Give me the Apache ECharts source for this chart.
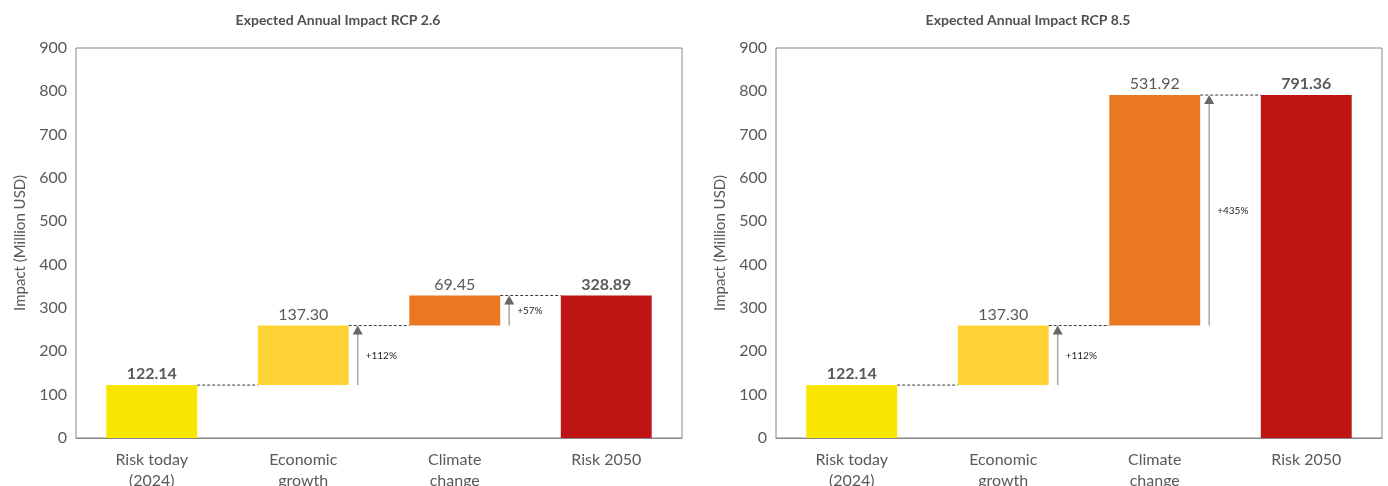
<!DOCTYPE html>
<html>
<head>
<meta charset="utf-8">
<script src="https://cdn.jsdelivr.net/npm/echarts@6/dist/echarts.min.js"></script>
<style>
  html, body { margin: 0; padding: 0; background: #fff; }
  #chart { width: 1388px; height: 486px; }
</style>
</head>
<body>
<div id="chart"></div>
<script>
var categories = ['Risk today\n(2024)', 'Economic\ngrowth', 'Climate\nchange', 'Risk 2050'];
var titles = ['Expected Annual Impact RCP 2.6', 'Expected Annual Impact RCP 8.5'];
var rcp26 = [122.14, 137.30, 69.45, 328.89];
var rcp85 = [122.14, 137.30, 531.92, 791.36];
var pct26 = ['', '+112%', '+57%'];
var pct85 = ['', '+112%', '+435%'];
var barColors = ['#F8E500', '#FFD335', '#E97820', '#BE1414'];
var yTicks = [0, 900, 100];

var font = 'Lato, "Open Sans", sans-serif';
var barRatio = 0.6;

// invisible base for the floating bars
function baseOf(vals) {
    var out = [], acc = 0;
    vals.forEach(function (v, i) {
        if (i === 0 || i === vals.length - 1) out.push(0);
        else out.push(acc);
        acc += v;
    });
    return out;
}

// steps: [index, low, high]
function stepsOf(vals) {
    var out = [], acc = 0;
    for (var i = 0; i < vals.length - 1; i++) {
        out.push([i, acc, acc + vals[i]]);
        acc += vals[i];
    }
    return out;
}

function makeRender(pcts) {
    return function (params, api) {
        var i = api.value(0), lo = api.value(1), hi = api.value(2);
        var band = api.size([1, 0])[0];
        var half = band * barRatio / 2;
        var pHi = api.coord([i, hi]);
        var pLo = api.coord([i, lo]);
        var xr = pHi[0] + half;
        var nextLeft = pHi[0] + band - half;
        var children = [{
            type: 'line',
            shape: { x1: xr, y1: pHi[1], x2: nextLeft, y2: pHi[1] },
            style: { stroke: '#3a3a3a', lineWidth: 1, lineDash: [3, 2] }
        }];
        if (i > 0) {
            var ax = xr + 9;
            children.push({
                type: 'line',
                shape: { x1: ax, y1: pLo[1], x2: ax, y2: pHi[1] + 8 },
                style: { stroke: '#a6a6a6', lineWidth: 1.5 }
            });
            children.push({
                type: 'polygon',
                shape: { points: [[ax - 5, pHi[1] + 9], [ax + 5, pHi[1] + 9], [ax, pHi[1]]] },
                style: { fill: '#666666' }
            });
            children.push({
                type: 'text',
                style: {
                    text: pcts[i],
                    x: ax + 8, y: (pLo[1] + pHi[1]) / 2,
                    fill: '#262626', fontSize: 10, fontFamily: font,
                    align: 'left', verticalAlign: 'middle'
                }
            });
        }
        return { type: 'group', children: children };
    };
}

function barData(vals) {
    return vals.map(function (v, i) {
        var edge = i === 0 || i === vals.length - 1;
        return {
            value: v,
            itemStyle: { color: barColors[i] },
            label: { fontWeight: edge ? 'bold' : 'normal' }
        };
    });
}

// fixed plot boxes; labels may run off the bottom edge like the source
var grids = [
    { left: 76, top: 48, width: 606, height: 390, outerBoundsMode: 'none',
      show: true, borderColor: '#868686', borderWidth: 1 },
    { left: 776, top: 48, width: 606, height: 390, outerBoundsMode: 'none',
      show: true, borderColor: '#868686', borderWidth: 1 }
];

var xAxes = [0, 1].map(function (g) {
    return {
        type: 'category', gridIndex: g, data: categories,
        axisTick: { show: false },
        axisLine: { lineStyle: { color: '#868686' } },
        axisLabel: { color: '#595959', fontSize: 16, fontFamily: font, margin: 11, lineHeight: 21, interval: 0 }
    };
});

var yAxes = [0, 1].map(function (g) {
    return {
        type: 'value', gridIndex: g, min: yTicks[0], max: yTicks[1], interval: yTicks[2],
        name: 'Impact (Million USD)', nameLocation: 'middle', nameRotate: 90, nameGap: 48,
        nameTextStyle: { color: '#595959', fontSize: 15, fontFamily: font },
        axisLine: { show: false }, axisTick: { show: false }, splitLine: { show: false },
        axisLabel: { color: '#595959', fontSize: 16, fontFamily: font, margin: 9 }
    };
});

var series = [];
[[rcp26, pct26], [rcp85, pct85]].forEach(function (pair, g) {
    var vals = pair[0];
    series.push({
        type: 'bar', xAxisIndex: g, yAxisIndex: g, stack: 's' + g,
        barWidth: (barRatio * 100) + '%', silent: true,
        itemStyle: { color: 'transparent' },
        data: baseOf(vals)
    });
    series.push({
        type: 'bar', xAxisIndex: g, yAxisIndex: g, stack: 's' + g,
        barWidth: (barRatio * 100) + '%',
        label: {
            show: true, position: 'top', distance: 3,
            color: '#595959', fontSize: 16, fontFamily: font,
            formatter: function (p) { return p.value.toFixed(2); }
        },
        data: barData(vals)
    });
    series.push({
        type: 'custom', xAxisIndex: g, yAxisIndex: g, silent: true,
        renderItem: makeRender(pair[1]),
        encode: { x: 0, y: [1, 2] },
        data: stepsOf(vals),
        z: 5
    });
});

var myChart = echarts.init(document.getElementById('chart'));
var option = {
    animation: false,
    title: [
        { text: titles[0], left: 338, top: 13, textAlign: 'center', padding: 0,
          textStyle: { color: '#505050', fontSize: 14, fontWeight: 'bold', fontFamily: font } },
        { text: titles[1], left: 1028, top: 13, textAlign: 'center', padding: 0,
          textStyle: { color: '#505050', fontSize: 14, fontWeight: 'bold', fontFamily: font } }
    ],
    grid: grids,
    xAxis: xAxes,
    yAxis: yAxes,
    series: series
};
option && myChart.setOption(option);
</script>
</body>
</html>
